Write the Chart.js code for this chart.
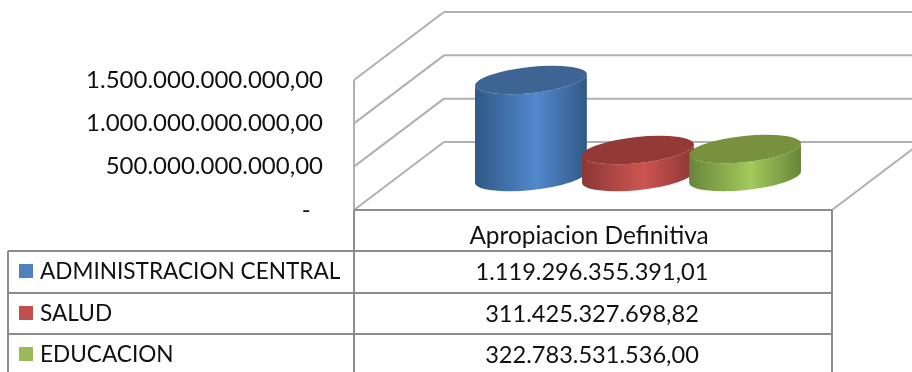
<!DOCTYPE html>
<html>
<head>
<meta charset="utf-8">
<title>Apropiacion Definitiva</title>
<script src="https://cdn.jsdelivr.net/npm/chart.js@4"></script>
<style>
  html, body { margin: 0; padding: 0; background: #fff; }
  canvas { display: block; }
</style>
</head>
<body>
<canvas id="chart" width="912" height="372"></canvas>
<script>
// Data
const categories = ['Apropiacion Definitiva'];
const seriesNames = ['ADMINISTRACION CENTRAL', 'SALUD', 'EDUCACION'];
const administracionValues = [1119296355391.01];
const saludValues = [311425327698.82];
const educacionValues = [322783531536.00];
const yTickLabels = ['-  ', '500.000.000.000,00', '1.000.000.000.000,00', '1.500.000.000.000,00'];

// Lato caps run wider than its digits, so names and numbers get their own size
const NAME_FONT = '22.6px Lato';
const VALUE_FONT = '23.6px Lato';
const swatchColors = ['#4f81bd', '#c0504d', '#9bbb59'];
// edge, middle, top of each cylinder
const cylinderColors = [
  ['#2f5885', '#5388cd', '#3d6493'],
  ['#8c3735', '#cd5551', '#933a37'],
  ['#67853a', '#a4c95b', '#77913f']
];

// depth of the fake 3d box, and where the bars sit inside it
const BOX_DX = 90, BOX_DY = -68;
const BAR_DX = 45, BAR_DY = -33;
const TILT = -6 * Math.PI / 180;
const ROW_LINES = [251, 293, 334];
const TEXT_ROWS = [272, 314, 355];
const TABLE_LEFT = 8;

function formatValue(v) {
  const parts = v.toFixed(2).split('.');
  return parts[0].replace(/\B(?=(\d{3})+$)/g, '.') + ',' + parts[1];
}

function line(ctx, x1, y1, x2, y2) {
  ctx.beginPath();
  ctx.moveTo(x1, y1);
  ctx.lineTo(x2, y2);
  ctx.stroke();
}

// Walls and gridlines
const wallsPlugin = {
  id: 'walls',
  beforeDatasetsDraw(chart) {
    const { ctx, scales, chartArea } = chart;
    const left = chartArea.left, right = chartArea.right;
    ctx.save();
    ctx.strokeStyle = '#b0b0b0';
    ctx.lineWidth = 2;
    scales.y.ticks.forEach(t => {
      const y = scales.y.getPixelForValue(t.value);
      line(ctx, left, y, left + BOX_DX, y + BOX_DY);
      line(ctx, left + BOX_DX, y + BOX_DY, chart.width, y + BOX_DY);
    });
    line(ctx, left, chartArea.top, left, chartArea.bottom);
    line(ctx, right, chartArea.bottom, right + BOX_DX, chartArea.bottom + BOX_DY);
    ctx.restore();
  }
};

function drawCylinder(ctx, el, colors) {
  const cx = el.x + BAR_DX;
  const r = el.width / 2;
  const topY = el.y + BAR_DY;
  const botY = el.base + BAR_DY;
  const b = 13;
  const grad = ctx.createLinearGradient(cx - r, 0, cx + r, 0);
  grad.addColorStop(0, colors[0]);
  grad.addColorStop(0.55, colors[1]);
  grad.addColorStop(1, colors[0]);

  ctx.fillStyle = grad;
  ctx.beginPath();
  ctx.ellipse(cx, topY, r, b, TILT, Math.PI, 0, true);
  ctx.ellipse(cx, botY, r, b, TILT, 0, Math.PI, false);
  ctx.closePath();
  ctx.fill();

  ctx.fillStyle = colors[2];
  ctx.beginPath();
  ctx.ellipse(cx, topY, r, b, TILT, 0, Math.PI * 2);
  ctx.fill();
}

const cylindersPlugin = {
  id: 'cylinders',
  afterDatasetsDraw(chart) {
    chart.data.datasets.forEach((ds, i) => {
      chart.getDatasetMeta(i).data.forEach(el => {
        drawCylinder(chart.ctx, el, cylinderColors[i]);
      });
    });
  }
};

// Data table under the chart
const tablePlugin = {
  id: 'dataTable',
  afterDraw(chart) {
    const { ctx, chartArea } = chart;
    const left = chartArea.left, right = chartArea.right;
    const mid = (left + right) / 2;
    ctx.save();
    ctx.strokeStyle = '#8c8c8c';
    ctx.lineWidth = 2;
    line(ctx, left, chartArea.bottom, right, chartArea.bottom);
    line(ctx, left, chartArea.bottom, left, chart.height);
    line(ctx, right, chartArea.bottom, right, chart.height);
    line(ctx, TABLE_LEFT, ROW_LINES[0], TABLE_LEFT, chart.height);
    ROW_LINES.forEach(y => line(ctx, TABLE_LEFT, y, right, y));

    ctx.textBaseline = 'middle';
    chart.data.datasets.forEach((ds, i) => {
      const y = TEXT_ROWS[i];
      ctx.fillStyle = swatchColors[i];
      ctx.fillRect(19, y - 8, 14, 14);
      ctx.fillStyle = '#111';
      ctx.textAlign = 'left';
      ctx.font = NAME_FONT;
      ctx.fillText(ds.label, 40, y);
      ctx.textAlign = 'center';
      ctx.font = VALUE_FONT;
      ctx.fillText(formatValue(ds.data[0]), mid - 1, y);
    });
    ctx.restore();
  }
};

function makeDataset(label, values) {
  return { label: label, data: values, backgroundColor: 'transparent', borderWidth: 0 };
}

new Chart(document.getElementById('chart'), {
  type: 'bar',
  data: {
    labels: categories,
    datasets: [
      makeDataset(seriesNames[0], administracionValues),
      makeDataset(seriesNames[1], saludValues),
      makeDataset(seriesNames[2], educacionValues)
    ]
  },
  options: {
    responsive: false,
    animation: false,
    categoryPercentage: 0.672,
    barPercentage: 1.05,
    layout: { padding: { top: 80, right: 80, left: 0, bottom: 0 } },
    plugins: { legend: { display: false }, title: { display: false }, tooltip: { enabled: false } },
    scales: {
      x: {
        afterFit(scale) { scale.height = 162; },
        grid: { display: false },
        border: { display: false },
        ticks: { color: '#111', font: { family: 'Lato', size: 24.4 }, padding: 4, maxRotation: 0, labelOffset: -4 }
      },
      y: {
        min: 0,
        max: 1500000000000,
        afterFit(scale) { scale.width = 354; },
        grid: { display: false },
        border: { display: false },
        ticks: {
          stepSize: 500000000000,
          color: '#111',
          font: { family: 'Lato', size: 24 },
          padding: 23,
          callback: (value, index) => yTickLabels[index]
        }
      }
    }
  },
  plugins: [wallsPlugin, cylindersPlugin, tablePlugin]
});
</script>
</body>
</html>
